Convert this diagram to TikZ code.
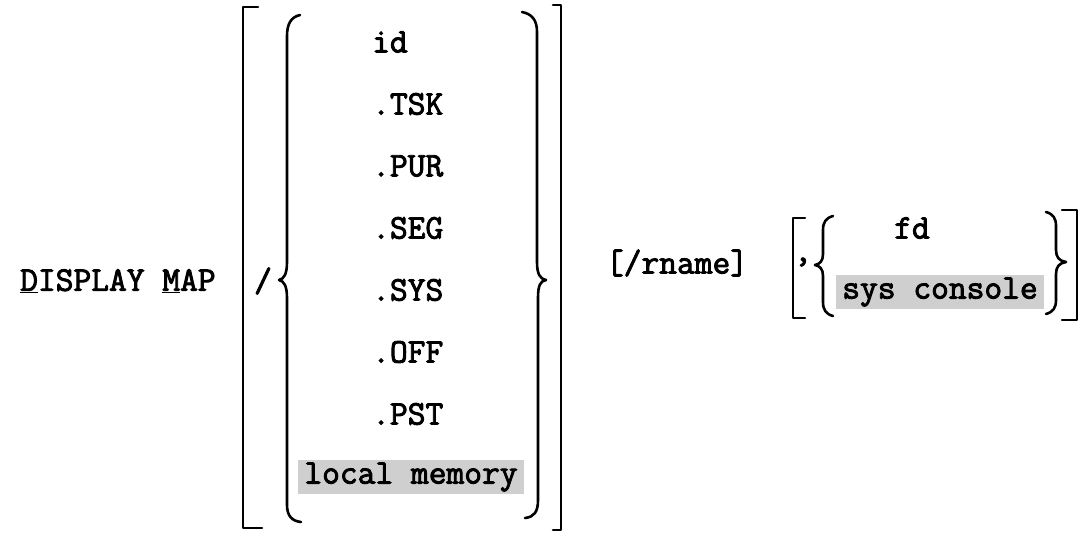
\documentclass[tikz,border=0pt]{standalone}
\usepackage{fontspec}
\begin{document}
\begin{tikzpicture}[x=1pt,y=-1pt,
  txt/.style={font=\ttfamily\fontsize{34.5}{38}\selectfont, inner sep=0pt,
    execute at begin node={\special{pdf:literal direct 2 Tr 0.9 w}},
    execute at end node={\special{pdf:literal direct 0 Tr 0.4 w}}},
  item/.style={txt, anchor=west},
  hl/.style={txt, fill=gray!38, inner xsep=6pt, inner ysep=3pt},
  br/.style={line width=2.6pt, line cap=round, line join=round}]
\useasboundingbox (0,0) rectangle (1081,533);
% command name
\node[txt, anchor=west] (cmd) at (20,281) {\underline{D}ISPLAY \underline{M}AP};
% outer bracket of first group
\draw[br] (258,7) -- (243,7) -- (243,528) -- (262,528);
\node[txt] (slash) at (263,281) {/};
% left brace
\draw[br] (300,15) .. controls (291,17) and (287,24) .. (287,36) -- (287,262)
  .. controls (287,274) and (284,279) .. (279,280)
  .. controls (284,281) and (287,286) .. (287,298) -- (287,505)
  .. controls (287,516) and (292,521) .. (301,522);
% items
\node[item] (id)  at (372,42)  {id};
\node[item] (tsk) at (372,104) {.TSK};
\node[item] (pur) at (372,166) {.PUR};
\node[item] (seg) at (372,228) {.SEG};
\node[item] (sys) at (372,290) {.SYS};
\node[item] (off) at (372,352) {.OFF};
\node[item] (pst) at (372,414) {.PST};
\node[hl] (lm) at (411,477) {local memory};
% right brace
\draw[br] (522,12) .. controls (532,14) and (537,20) .. (537,32) -- (537,262)
  .. controls (537,274) and (540,279) .. (546,280)
  .. controls (540,281) and (538,286) .. (538,298) -- (538,500)
  .. controls (538,512) and (534,517) .. (525,518);
% outer right bracket
\draw[br] (553,5) -- (561,5) -- (561,530) -- (553,530);
% rname
\node[txt] (rname) at (677,263) {[/rname]};
% second group
\draw[br] (805,218) -- (793,218) -- (793,318) -- (805,318);
\node[txt] (comma) at (803,262) {,};
\draw[br] (833,216) .. controls (826,218) and (823,222) .. (823,230) -- (823,254)
  .. controls (823,261) and (820,264) .. (815,265)
  .. controls (820,266) and (823,269) .. (823,276) -- (823,302)
  .. controls (823,310) and (826,314) .. (833,316);
\node[txt] (fd) at (912,228) {fd};
\node[hl] (sc) at (940,292) {sys console};
\draw[br] (1046,212) .. controls (1053,214) and (1056,218) .. (1056,226) -- (1056,250)
  .. controls (1056,257) and (1059,261) .. (1066,262)
  .. controls (1059,263) and (1056,267) .. (1056,274) -- (1056,300)
  .. controls (1056,308) and (1053,312) .. (1046,314);
\draw[br] (1062,210) -- (1077,210) -- (1077,320) -- (1062,320);
\end{tikzpicture}
\end{document}
